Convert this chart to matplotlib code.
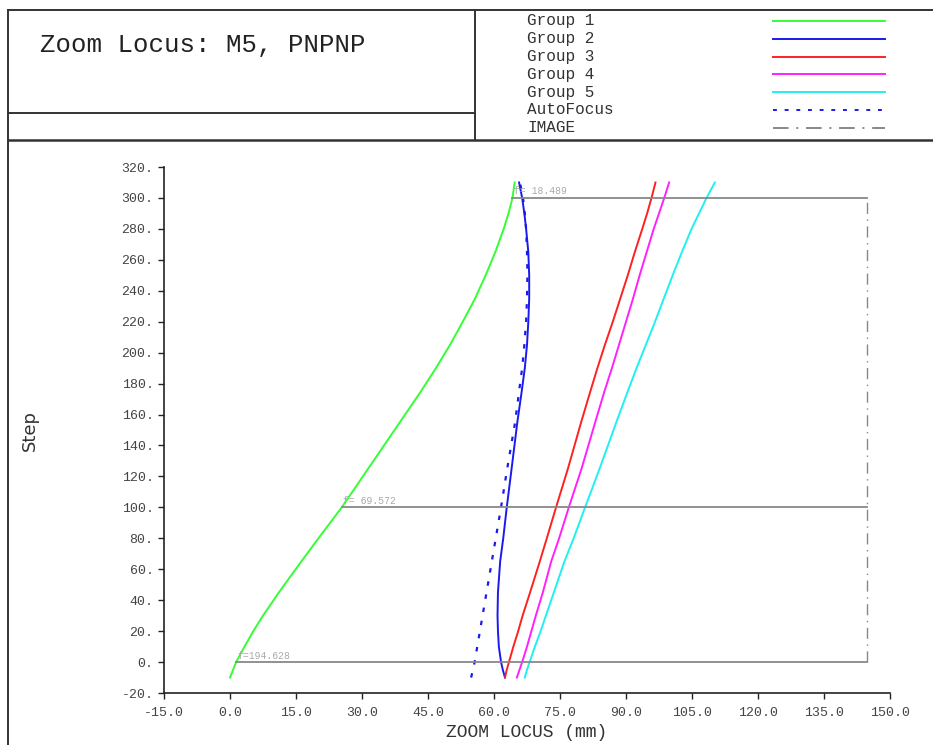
import numpy as np
import matplotlib
matplotlib.use("Agg")
import matplotlib.pyplot as plt
from matplotlib.lines import Line2D

# steps (y) shared by all curves
pasos = [-10, -5, 0, 10, 20, 30, 45, 65, 80, 100, 125, 155, 175, 190,
         205, 220, 235, 250, 265, 280, 290, 300, 310]

grupo1 = [0.0, 0.7, 1.4, 3.3, 5.3, 7.5, 11.1, 16.2, 20.1, 25.4, 31.4, 38.6, 43.4, 46.8,
          50.0, 52.9, 55.7, 58.1, 60.3, 62.2, 63.3, 64.2, 64.7]
grupo2 = [62.5, 62.0, 61.6, 61.1, 60.9, 60.8, 60.9, 61.4, 62.1, 62.9, 64.0, 65.3, 66.3, 67.0,
          67.5, 67.8, 68.0, 68.0, 67.8, 67.3, 66.9, 66.4, 65.7]
grupo3 = [62.5, 62.9, 63.4, 64.4, 65.5, 66.5, 68.2, 70.4, 72.0, 74.1, 76.8, 79.8, 81.9, 83.5,
          85.2, 87.0, 88.7, 90.4, 92.0, 93.7, 94.8, 95.8, 96.7]
grupo4 = [65.2, 65.8, 66.4, 67.5, 68.5, 69.5, 71.1, 73.0, 74.8, 77.0, 79.9, 83.0, 85.1, 86.8,
          88.4, 90.0, 91.6, 93.1, 94.7, 96.3, 97.5, 98.7, 99.8]
grupo5 = [67.0, 67.5, 68.1, 69.3, 70.6, 71.8, 73.6, 76.0, 78.1, 80.7, 84.0, 87.8, 90.4, 92.4,
          94.5, 96.6, 98.6, 100.6, 102.7, 104.9, 106.6, 108.3, 110.2]
autofocus = [54.8, 55.2, 55.6, 56.2, 56.8, 57.4, 58.3, 59.5, 60.4, 61.6, 63.0, 64.8, 65.7, 66.4,
             66.9, 67.3, 67.5, 67.6, 67.5, 67.3, 67.0, 66.6, 65.9]

# zoom positions marked on the chart
pasos_f = [300, 100, 0]
focales = ["f= 18.489", "f= 69.572", "f=194.628"]
imagen = 144.8

nombres = ["Group 1", "Group 2", "Group 3", "Group 4", "Group 5", "AutoFocus", "IMAGE"]
colores = ["#33ff33", "#1a1aee", "#ff2020", "#ff20ff", "#20f0f0", "#1a1aee", "#888888"]
estilos = ["-", "-", "-", "-", "-", (0, (2, 4)), (0, (8, 4, 1, 4))]

mono = "Liberation Mono"

fig = plt.figure(figsize=(9.33, 7.45), dpi=100)
W, H = 933, 745

def linea_fig(x1, y1, x2, y2, lw=1.4, color="#333333"):
    fig.add_artist(Line2D([x1 / W, x2 / W], [1 - y1 / H, 1 - y2 / H],
                          transform=fig.transFigure, color=color, lw=lw))

# header frame
linea_fig(8, 10, W, 10)
linea_fig(8, 10, 8, H)
linea_fig(8, 140, W, 140, lw=1.8)
linea_fig(8, 113, 475, 113)
linea_fig(475, 10, 475, 140)

fig.text(40 / W, 1 - 45 / H, "Zoom Locus: M5, PNPNP", family=mono,
         fontsize=18.5, va="center", ha="left", color="#222222")

# legend
filas = [21, 39, 57, 74, 92, 110, 128]
for nombre, color, estilo, yy in zip(nombres, colores, estilos, filas):
    fig.text(527 / W, 1 - yy / H, nombre, family=mono, fontsize=11.5,
             va="center", ha="left", color="#333333")
    fig.add_artist(Line2D([773 / W, 885 / W], [1 - yy / H, 1 - yy / H],
                          transform=fig.transFigure, color=color,
                          linestyle=estilo, lw=1.4))

ax = fig.add_axes([164 / W, 1 - 693 / H, (890 - 164) / W, (693 - 167) / H])

grupos = [grupo1, grupo2, grupo3, grupo4, grupo5]
for g, c in zip(grupos, colores[:5]):
    ax.plot(g, pasos, color=c, lw=1.4)
ax.plot(autofocus, pasos, color=colores[5], linestyle=estilos[5], lw=1.6)

# zoom position lines and image plane
for p, etiqueta in zip(pasos_f, focales):
    x0 = np.interp(p, pasos, grupo1)
    ax.plot([x0, imagen], [p, p], color="#888888", lw=1.3)
    ax.text(x0 + 0.3, p + 1.0, etiqueta, family=mono, fontsize=7,
            color="#aaaaaa", va="bottom", ha="left")
ax.plot([imagen, imagen], [0, 300], color="#888888",
        linestyle=estilos[6], lw=1.0)

ax.set_xlim(-15, 150)
ax.set_ylim(-20, 320)
ax.set_xticks(np.arange(-15, 151, 15))
ax.set_yticks(np.arange(-20, 321, 20))
ax.set_xticklabels([f"{v:.1f}" for v in np.arange(-15, 151, 15)])
ax.set_yticklabels([f"{v}." for v in range(-20, 321, 20)])
for lab in ax.get_xticklabels() + ax.get_yticklabels():
    lab.set_family(mono)
    lab.set_fontsize(9.5)
    lab.set_color("#444444")
ax.tick_params(direction="out", length=4, width=1, color="#222222")
ax.tick_params(axis="x", pad=6)
ax.spines["top"].set_visible(False)
ax.spines["right"].set_visible(False)
ax.spines["left"].set_color("#222222")
ax.spines["bottom"].set_color("#222222")
ax.spines["left"].set_linewidth(1.2)
ax.spines["bottom"].set_linewidth(1.2)

ax.set_xlabel("ZOOM LOCUS (mm)", family=mono, fontsize=13, color="#333333", labelpad=4)
fig.text(30 / W, 1 - 430 / H, "Step", rotation=90, fontsize=13,
         color="#333333", va="center", ha="center")

fig.savefig("out.png", dpi=100)
